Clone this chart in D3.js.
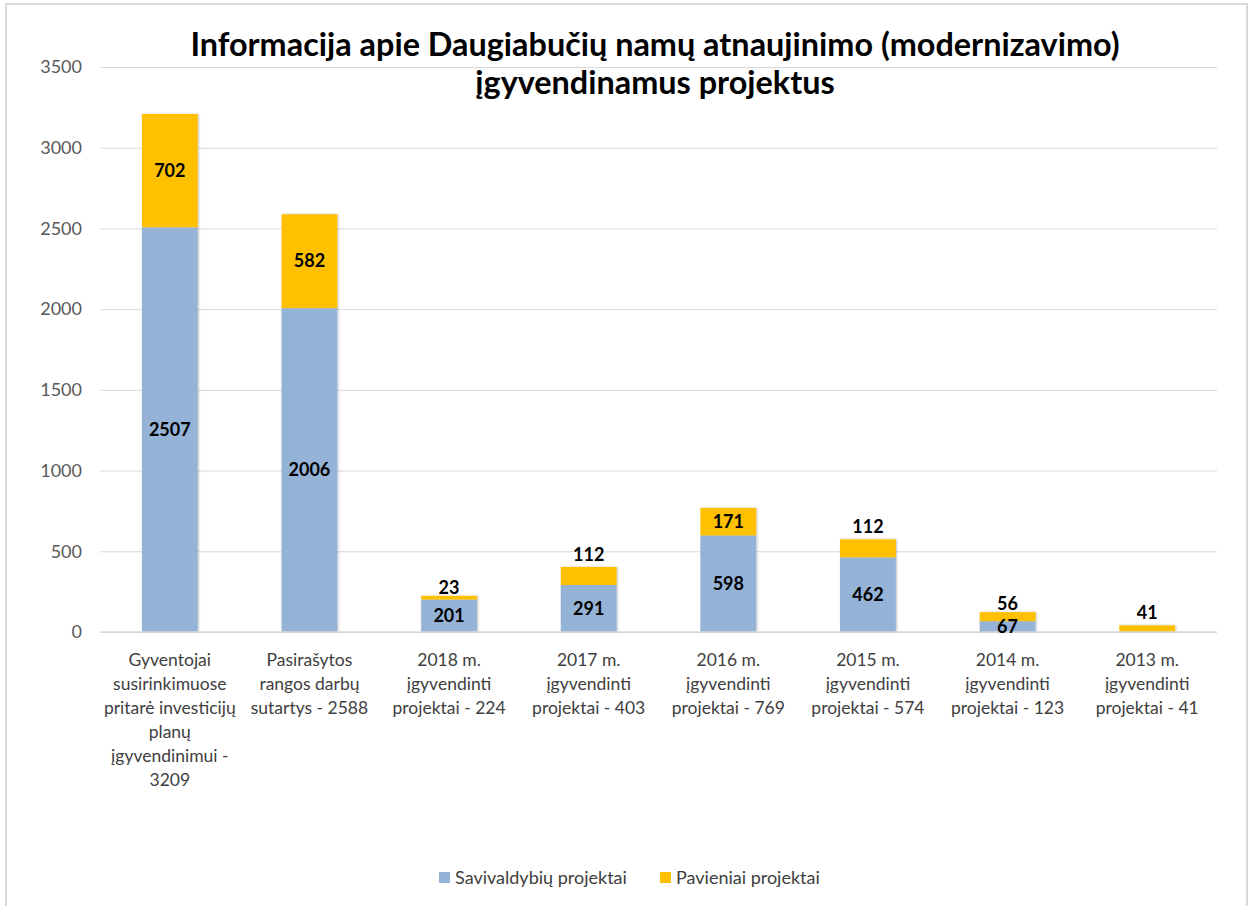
<!DOCTYPE html>
<html>
<head>
<meta charset="utf-8">
<script src="https://cdn.jsdelivr.net/npm/d3@7"></script>
<style>
  body { margin: 0; background: #fff; }
  svg { display: block; }
</style>
</head>
<body>
<svg id="chart" width="1249" height="906"></svg>
<script>
// data
const categories = [
  ["Gyventojai", "susirinkimuose", "pritarė investicijų", "planų", "įgyvendinimui -", "3209"],
  ["Pasirašytos", "rangos darbų", "sutartys  - 2588"],
  ["2018 m.", "įgyvendinti", "projektai - 224"],
  ["2017 m.", "įgyvendinti", "projektai - 403"],
  ["2016 m.", "įgyvendinti", "projektai - 769"],
  ["2015 m.", "įgyvendinti", "projektai - 574"],
  ["2014 m.", "įgyvendinti", "projektai - 123"],
  ["2013 m.", "įgyvendinti", "projektai - 41"]
];
const savivaldybiu = [2507, 2006, 201, 291, 598, 462, 67, 0];
const pavieniai = [702, 582, 23, 112, 171, 112, 56, 41];
const seriesNames = ["Savivaldybių projektai", "Pavieniai projektai"];
const yTicks = [0, 500, 1000, 1500, 2000, 2500, 3000, 3500];
const titleLines = ["Informacija apie Daugiabučių namų atnaujinimo (modernizavimo)", "įgyvendinamus projektus"];

const colors = ["#95b3d7", "#ffc000"];
const font = "Lato, Carlito, sans-serif";

var svg = d3.select("#chart"),
    margin = {top: 67, right: 32, bottom: 274, left: 100},
    width = +svg.attr("width") - margin.left - margin.right,
    height = +svg.attr("height") - margin.top - margin.bottom;

// outer frame
svg.append("rect")
  .attr("x", 6).attr("y", 4)
  .attr("width", 1241).attr("height", 910)
  .attr("fill", "#fff")
  .attr("stroke", "#d9d9d9")
  .attr("stroke-width", 2);

var defs = svg.append("defs");
var f = defs.append("filter").attr("id", "shadow")
  .attr("x", "-20%").attr("y", "-5%").attr("width", "140%").attr("height", "110%");
f.append("feDropShadow")
  .attr("dx", 1).attr("dy", 0).attr("stdDeviation", 1.2)
  .attr("flood-color", "#000").attr("flood-opacity", 0.25);

var g = svg.append("g")
  .attr("transform", "translate(" + margin.left + "," + margin.top + ")");

var x = d3.scaleBand()
  .domain(d3.range(categories.length))
  .range([0, width])
  .paddingInner(0.6)
  .paddingOuter(0.3);

var y = d3.scaleLinear().domain([0, 3500]).range([height, 0]);

// gridlines + y labels
var yAxis = g.append("g")
  .call(d3.axisLeft(y).tickValues(yTicks).tickFormat(d3.format("d")).tickSize(-width).tickPadding(18));
yAxis.select(".domain").remove();
yAxis.selectAll(".tick line").attr("stroke", "#d9d9d9").attr("stroke-width", 1);
yAxis.selectAll(".tick text")
  .attr("fill", "#595959")
  .style("font-family", font)
  .style("font-size", "18px");

// stacked data
var stack = categories.map((c, i) => {
  return [
    {s: 0, i: i, y0: 0, y1: savivaldybiu[i], v: savivaldybiu[i]},
    {s: 1, i: i, y0: savivaldybiu[i], y1: savivaldybiu[i] + pavieniai[i], v: pavieniai[i]}
  ];
});
var segs = stack.flat().filter(d => d.v > 0);

g.append("g").attr("filter", "url(#shadow)")
  .selectAll("rect")
  .data(segs)
  .enter()
  .append("rect")
  .attr("x", d => x(d.i))
  .attr("y", d => y(d.y1))
  .attr("width", x.bandwidth())
  .attr("height", d => y(d.y0) - y(d.y1))
  .attr("fill", d => colors[d.s]);

// x axis line
g.append("line")
  .attr("x1", 0).attr("x2", width)
  .attr("y1", height).attr("y2", height)
  .attr("stroke", "#d9d9d9").attr("stroke-width", 1.5);

// data labels
g.append("g")
  .selectAll("text")
  .data(segs)
  .enter()
  .append("text")
  .attr("x", d => x(d.i) + x.bandwidth() / 2)
  .attr("y", function (d) {
    var h = y(d.y0) - y(d.y1);
    if (d.s == 1 && h < 12 && savivaldybiu[d.i] > 0) return y(d.y1) - 2;
    if (d.s == 1 && h < 22) return y(d.y1) - 6;
    return (y(d.y0) + y(d.y1)) / 2 + 6;
  })
  .attr("text-anchor", "middle")
  .attr("font-family", font)
  .attr("font-weight", 700)
  .attr("font-size", "18px")
  .attr("fill", "#000")
  .text(d => d.v);

// category labels
var cat = g.append("g")
  .selectAll("text")
  .data(categories)
  .enter()
  .append("text")
  .attr("x", (d, i) => x(i) + x.bandwidth() / 2)
  .attr("y", height + 34)
  .attr("text-anchor", "middle")
  .attr("font-family", font)
  .attr("font-size", "17.5px")
  .attr("fill", "#404040");
cat.selectAll("tspan")
  .data(d => d)
  .enter()
  .append("tspan")
  .attr("x", function () { return d3.select(this.parentNode).attr("x"); })
  .attr("dy", (d, j) => j == 0 ? 0 : 24)
  .text(d => d);

// title
svg.append("text")
  .attr("x", 655)
  .attr("y", 56)
  .attr("text-anchor", "middle")
  .attr("font-family", font)
  .attr("font-weight", 700)
  .attr("font-size", "32.4px")
  .attr("fill", "#000")
  .selectAll("tspan")
  .data(titleLines)
  .enter()
  .append("tspan")
  .attr("x", 655)
  .attr("dy", (d, j) => j == 0 ? 0 : 38)
  .text(d => d);

// legend
var legend = svg.append("g").attr("transform", "translate(0,878)");
var legX = [439, 660];
seriesNames.forEach((n, k) => {
  legend.append("rect")
    .attr("x", legX[k]).attr("y", -6)
    .attr("width", 11).attr("height", 11)
    .attr("fill", colors[k]);
  legend.append("text")
    .attr("x", legX[k] + 16).attr("y", 6)
    .attr("font-family", font)
    .attr("font-size", "18px")
    .attr("fill", "#404040")
    .text(n);
});
</script>
</body>
</html>
